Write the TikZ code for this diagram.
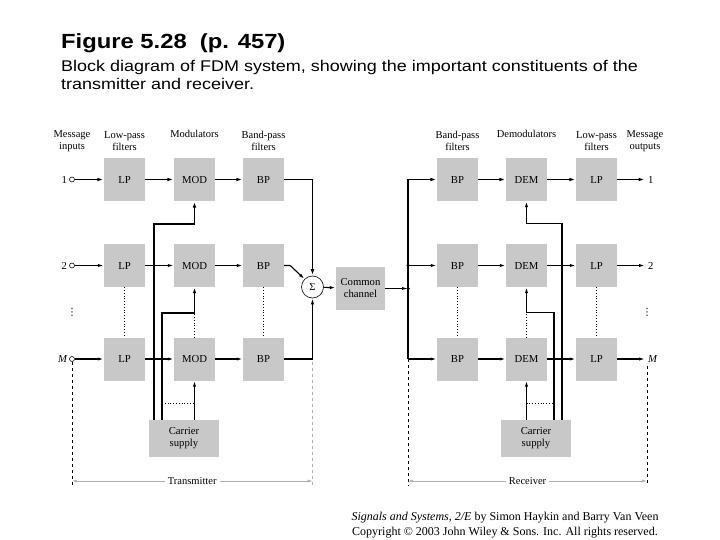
\documentclass[tikz,border=0pt]{standalone}
\usepackage{fontspec}
\setmainfont{Liberation Serif}
\newfontfamily\arialw[FakeStretch=1.16]{Liberation Sans}
\newfontfamily\dejavu{DejaVu Sans}
\usetikzlibrary{arrows.meta}
\definecolor{boxgray}{RGB}{200,200,200}
\definecolor{dimgray}{RGB}{175,175,175}
\begin{document}
\begin{tikzpicture}[x=1pt,y=-1pt,
  blkbase/.style={fill=boxgray, minimum width=41pt, minimum height=43pt, inner sep=0pt, font=\fontsize{10.7}{12}\selectfont},
  blk/.style={blkbase, text height=7.2pt, text depth=0pt},
  hdr/.style={align=center, inner sep=0pt, font=\fontsize{10.5}{11.5}\selectfont},
  sig/.style={line width=1.1pt, -{Latex[length=6pt,width=3.2pt]}},
  sigT/.style={line width=1.9pt, -{Latex[length=6.5pt,width=3.6pt]}},
  inc/.style={circle, draw, line width=0.6pt, inner sep=0pt, minimum size=5pt, fill=white},
  lab/.style={inner sep=0pt, font=\fontsize{10.7}{12}\selectfont},
  dotv/.style={dotted, line width=0.8pt},
  dimline/.style={draw=dimgray, line width=0.6pt, {Latex[length=5pt,width=3pt]}-{Latex[length=5pt,width=3pt]}},
  jdot/.style={circle, fill, inner sep=0pt, minimum size=3.5pt}
]
\useasboundingbox (0,0) rectangle (720,540);

% Title
\node[anchor=base west, inner sep=0pt, font=\arialw\bfseries\fontsize{20.5}{24}\selectfont] (title) at (61,48.5) {Figure 5.28\ \ (p. 457)};
\node[anchor=base west, inner sep=0pt, font=\arialw\fontsize{15.5}{18}\selectfont] (sub1) at (61,72) {Block diagram of FDM system, showing the important constituents of the};
\node[anchor=base west, inner sep=0pt, font=\arialw\fontsize{15.5}{18}\selectfont] (sub2) at (61,90) {transmitter and receiver.};

% Headers
\node[hdr] (h1) at (72,141) {Message\\inputs};
\node[hdr] (h2) at (124.5,141) {Low-pass\\filters};
\node[hdr, anchor=base] (h3) at (194.5,138) {Modulators};
\node[hdr] (h4) at (263.5,141) {Band-pass\\filters};
\node[hdr] (h5) at (457.5,141) {Band-pass\\filters};
\node[hdr, anchor=base] (h6) at (526.5,138) {Demodulators};
\node[hdr] (h7) at (596.5,141) {Low-pass\\filters};
\node[hdr] (h8) at (645,141) {Message\\outputs};

% Blocks
\foreach \r/\y in {1/179.5, 2/265.5, M/359} {
  \node[blk] (lp\r) at (124.5,\y) {LP};
  \node[blk] (mod\r) at (194.5,\y) {MOD};
  \node[blk] (bp\r) at (263.5,\y) {BP};
  \node[blk] (rbp\r) at (457.5,\y) {BP};
  \node[blk] (dem\r) at (526.5,\y) {DEM};
  \node[blk] (rlp\r) at (596.5,\y) {LP};
  \node[inc] (in\r) at (72,\y) {};
  \coordinate (out\r) at (645,\y);
}
\node[lab, anchor=east] (l1) at ([xshift=-2pt]in1.west) {1};
\node[lab, anchor=east] (l2) at ([xshift=-2pt]in2.west) {2};
\node[lab, anchor=east] (lM) at ([xshift=-2pt]inM.west) {\itshape M};
\node[lab, anchor=west] (o1) at ([xshift=3pt]out1) {1};
\node[lab, anchor=west] (o2) at ([xshift=3pt]out2) {2};
\node[lab, anchor=west] (oM) at ([xshift=3pt]outM) {\itshape M};

\node[inner sep=0pt, font=\dejavu\fontsize{10}{12}\selectfont] (vd1) at (72,312) {⋮};
\node[inner sep=0pt, font=\dejavu\fontsize{10}{12}\selectfont] (vd2) at (647,312) {⋮};

% Summer and channel
\node[circle, draw, line width=0.6pt, minimum size=22pt, inner sep=0pt, font=\fontsize{10.5}{12}\selectfont] (sum) at (312.5,287) {Σ};
\node[blkbase, minimum width=49pt, align=center] (ch) at (360.5,288.5) {Common\\channel};

% Carrier supplies
\node[blkbase, minimum width=70pt, minimum height=37pt, align=center] (cs) at (184,438.5) {Carrier\\supply};
\node[blkbase, minimum width=70pt, minimum height=37pt, align=center] (rcs) at (536,438.5) {Carrier\\supply};

% Junction coordinates
\coordinate (jt) at (408,179.5);
\coordinate (j2) at (408,265.5);
\coordinate (jc) at (408,288.5);
\coordinate (jb) at (408,359);

% Transmitter signal paths
\draw[sigT] (in1) -- (lp1);
\draw[sigT] (lp1) -- (mod1);
\draw[sigT] (mod1) -- (bp1);
\draw[sig] (in2) -- (lp2);
\draw[sig] (lp2) -- (mod2);
\draw[sig] (mod2) -- (bp2);
\draw[sig] (inM) -- (lpM);
\draw[sig] (lpM) -- (modM);
\draw[sig] (modM) -- (bpM);

\draw[sigT] (bp1.east) -| (sum.north);
\draw[sig] (bp2.east) -- ++(6,0) -- (sum.135);
\draw[sig] (bpM.east) -| (sum.south);
\draw[sig] (sum) -- (ch);
\draw[sig] (ch.east |- jc) -- (jc);

% Receiver paths
\draw[line width=2pt] (jt) -- (jb);
\node[jdot] (d2) at (j2) {};
\node[jdot] (dc) at (jc) {};
\draw[sigT] (jt) -- (rbp1);
\draw[sig] (j2) -- (rbp2);
\draw[sig] (jb) -- (rbpM);
\draw[sigT] (rbp1) -- (dem1);
\draw[sigT] (dem1) -- (rlp1);
\draw[sigT] (rlp1) -- (out1);
\draw[sig] (rbp2) -- (dem2);
\draw[sig] (dem2) -- (rlp2);
\draw[sig] (rlp2) -- (out2);
\draw[sig] (rbpM) -- (demM);
\draw[sig] (demM) -- (rlpM);
\draw[sig] (rlpM) -- (outM);

% Transmitter carrier lines
\draw[line width=1.9pt, -{Latex[length=6.5pt,width=3.6pt]}] ([xshift=-30pt]cs.north) -- ++(0,-196) -| (mod1.south);
\draw[line width=1.6pt, -{Latex[length=6pt,width=3.4pt]}] ([xshift=-22pt]cs.north) -- ++(0,-107) -| (mod2.south);
\draw[sig] ([xshift=10.5pt]cs.north) -- (modM.south);
\draw[dotv] ([xshift=-22pt,yshift=16pt]cs.north) -- ([xshift=10.5pt,yshift=16pt]cs.north);

% Receiver carrier lines
\draw[sig] ([xshift=26pt]rcs.north) -- ++(0,-196) -| (dem1.south);
\draw[sig] ([xshift=18pt]rcs.north) -- ++(0,-107) -| (dem2.south);
\draw[sig] ([xshift=-9.5pt]rcs.north) -- (demM.south);
\draw[dotv] ([xshift=-9.5pt,yshift=16pt]rcs.north) -- ([xshift=18pt,yshift=16pt]rcs.north);

% Dotted column links
\draw[dotv] (lp2.south) -- (lpM.north);
\draw[dotv] (bp2.south) -- (bpM.north);
\draw[dotv] (modM.north) -- ++(0,-25);
\draw[dotv] (rbp2.south) -- (rbpM.north);
\draw[dotv] (rlp2.south) -- (rlpM.north);
\draw[dotv] (demM.north) -- ++(0,-25);

% Transmitter / receiver spans
\coordinate (tl) at (72,481);
\coordinate (tr) at (312.5,481);
\coordinate (rl) at (408,481);
\coordinate (rr) at (647,481);
\draw[dashed, line width=0.7pt] (inM.south) -- ([yshift=-5pt]tl);
\draw[dashed, draw=dimgray, line width=0.6pt] (sum.south |- bpM.east) ++(0,3) -- ([yshift=-5pt]tr);
\draw[dashed, line width=0.7pt] (jb) -- ([yshift=-5pt]rl);
\draw[dashed, line width=0.7pt] (647,366) -- ([yshift=-5pt]rr);
\draw[dimline] (tl) -- node[fill=white, inner sep=3pt, text=black, font=\fontsize{10.5}{12}\selectfont] (tlab) {Transmitter} (tr);
\draw[dimline] (rl) -- node[fill=white, inner sep=3pt, text=black, font=\fontsize{10.5}{12}\selectfont] (rlab) {Receiver} (rr);

% Footer
\node[align=center, inner sep=0pt, font=\fontsize{12}{14.5}\selectfont] (foot) at (505,525) {\textit{Signals and Systems, 2/E} by Simon Haykin and Barry Van Veen\\Copyright © 2003 John Wiley \& Sons. Inc. All rights reserved.};
\end{tikzpicture}
\end{document}
